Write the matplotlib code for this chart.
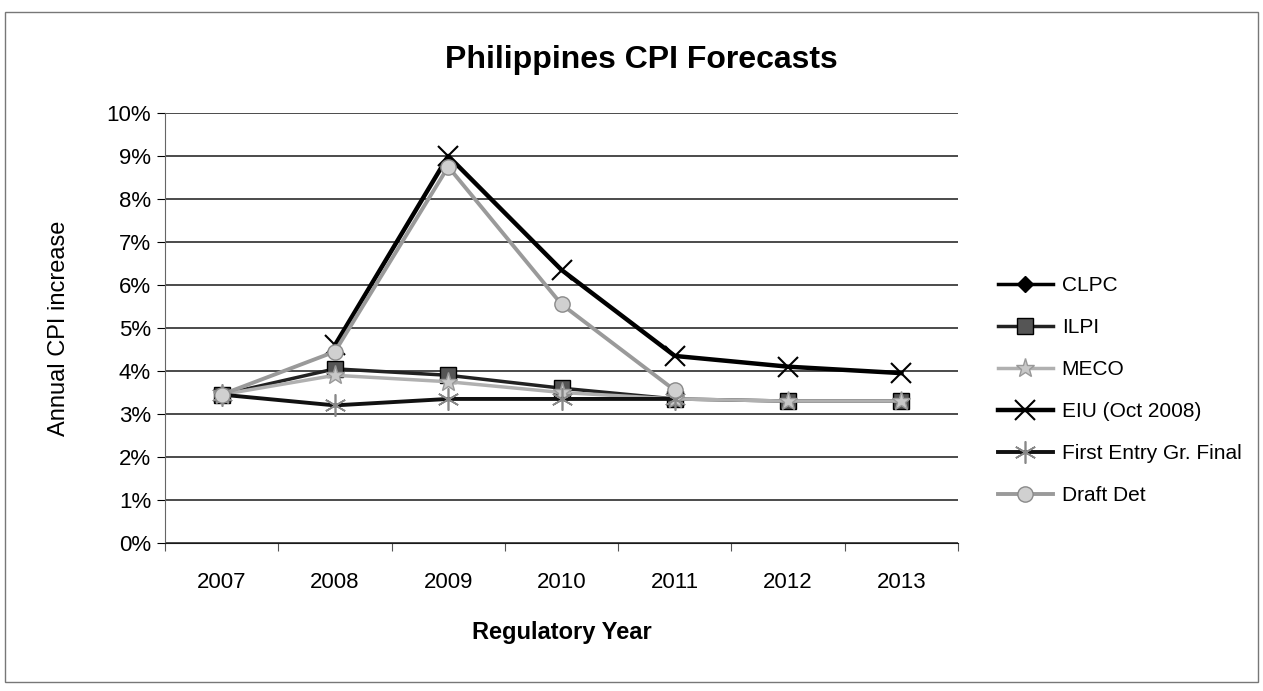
import numpy as np
import matplotlib
matplotlib.use("Agg")
import matplotlib.pyplot as plt
from matplotlib.patches import Rectangle
from matplotlib.ticker import FuncFormatter, FixedLocator

plt.rcParams['font.family'] = ['Liberation Sans', 'DejaVu Sans']

years = ['2007', '2008', '2009', '2010', '2011', '2012', '2013']
nan = np.nan

# annual CPI forecasts, % per regulatory year
clpc = [3.45, nan, nan, nan, nan, nan, nan]
ilpi = [3.45, 4.05, 3.9, 3.6, 3.35, 3.3, 3.3]
meco = [3.45, 3.9, 3.75, 3.5, 3.35, 3.3, 3.3]
eiu = [nan, 4.6, 9.0, 6.35, 4.35, 4.1, 3.95]
first_entry = [3.45, 3.2, 3.35, 3.35, 3.35, nan, nan]
draft_det = [3.45, 4.45, 8.75, 5.55, 3.55, nan, nan]

fig = plt.figure(figsize=(12.63, 6.91), dpi=100)
ax = fig.add_axes([0.1306, 0.2142, 0.628, 0.6223])

x = np.arange(len(years))

ax.plot(x, clpc, color='black', lw=2.5, marker='D', ms=8, mfc='black', mec='black', label='CLPC')
ax.plot(x, ilpi, color='#222222', lw=2.5, marker='s', ms=11, mfc='#555555', mec='black', label='ILPI')
ax.plot(x, meco, color='#b0b0b0', lw=2.5, marker='*', ms=14, mfc='#c8c8c8', mec='#999999', label='MECO')
ax.plot(x, eiu, color='black', lw=3.2, marker='x', ms=14, mew=1.5, mec='black', label='EIU (Oct 2008)')
ax.plot(x, first_entry, color='#111111', lw=2.8, marker=(6, 2, 0), ms=16, mew=1.2, mec='#888888', label='First Entry Gr. Final')
ax.plot(x, draft_det, color='#9a9a9a', lw=2.8, marker='o', ms=11, mfc='#d0d0d0', mec='#8a8a8a', label='Draft Det')

ax.set_xlim(-0.5, len(years) - 0.5)
ax.set_ylim(0, 10)
ax.set_yticks(np.arange(0, 11, 1))
ax.yaxis.set_major_formatter(FuncFormatter(lambda v, p: '%d%%' % v))
ax.set_xticks(x)
ax.set_xticklabels(years)
ax.xaxis.set_minor_locator(FixedLocator(np.arange(-0.5, len(years), 1)))
ax.tick_params(axis='x', which='major', length=0, pad=21, labelsize=16)
ax.tick_params(axis='x', which='minor', length=6, width=0.8, color='#555555', direction='out')
ax.tick_params(axis='y', length=6, width=0.8, labelsize=16, pad=4)

ax.grid(axis='y', color='#1a1a1a', lw=1.1)
ax.set_axisbelow(True)
for side in ['top', 'right']:
    ax.spines[side].set_visible(False)
ax.spines['left'].set_color('#666666')
ax.spines['left'].set_linestyle((0, (1, 1)))
ax.spines['bottom'].set_color('#1a1a1a')

ax.set_ylabel('Annual CPI increase', fontsize=17, labelpad=26)
ax.set_xlabel('Regulatory Year', fontsize=17, fontweight='bold', labelpad=20)
fig.text(0.508, 0.913, 'Philippines CPI Forecasts', fontsize=23, fontweight='bold',
         ha='center', va='center')

ax.legend(loc='upper left', bbox_to_anchor=(0.790, 0.600), bbox_transform=fig.transFigure,
          frameon=False, fontsize=15, handlelength=2.64, handletextpad=0.43,
          labelspacing=1.1, borderpad=0, borderaxespad=0)

# outer chart border
fig.add_artist(Rectangle((0.004, 0.013), 0.992, 0.97, transform=fig.transFigure,
                         fill=False, edgecolor='#777777', lw=1.0))

fig.savefig('out.png', dpi=100)
